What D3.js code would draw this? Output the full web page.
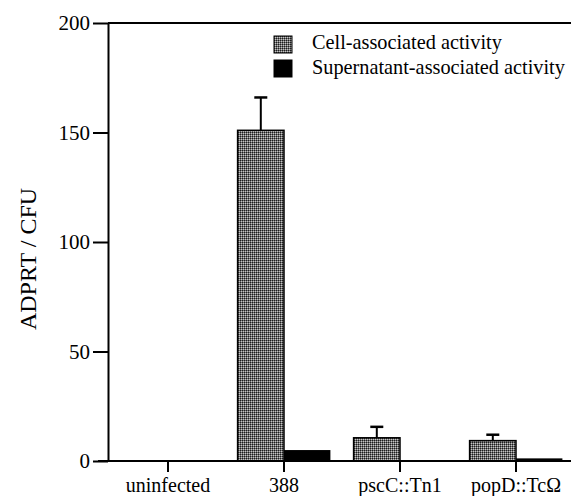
<!DOCTYPE html>
<html><head><meta charset="utf-8">
<script src="https://cdn.jsdelivr.net/npm/d3@7"></script>
<style>body{margin:0;background:#fff}svg{display:block}text{font-family:"Liberation Serif","Times New Roman",serif;fill:#000}</style>
</head><body><svg id="c" width="571" height="496"></svg>
<script>
const categories = ["uninfected", "388", "pscC::Tn1", "popD::TcΩ"];
const cellValues = [0, 151, 10.6, 9.3];
const cellErrors = [0, 15, 5, 2.7];
const supernatantValues = [0, 5, 0, 1.2];
const yTicks = [0, 50, 100, 150, 200];
const seriesNames = ["Cell-associated activity", "Supernatant-associated activity"];

(function(){
const FF = '"Liberation Serif","Times New Roman",serif';
const svg = d3.select("#c");
const pLeft = 108, pTop = 23, pBottom = 461;

const defs = svg.append("defs");
const pat = defs.append("pattern").attr("id","stip").attr("patternUnits","userSpaceOnUse")
  .attr("width",2).attr("height",2);
pat.append("rect").attr("width",2).attr("height",2).attr("fill","#6e6e6e");
pat.append("rect").attr("width",1).attr("height",1).attr("fill","#1e1e1e");
pat.append("rect").attr("x",1).attr("y",1).attr("width",1).attr("height",1).attr("fill","#c4c4c4");

const x = d3.scaleBand().domain(categories).range([110, 574]).paddingInner(0).paddingOuter(0);
const y = d3.scaleLinear().domain([0, 200]).range([pBottom, pTop]);
const bw = x.bandwidth() * 0.4;

svg.append("line").attr("x1",pLeft).attr("x2",571).attr("y1",pTop).attr("y2",pTop)
  .attr("stroke","#000").attr("stroke-width",2);

const g = svg.append("g");
categories.forEach((c,i) => {
  const cx = x(c) + x.bandwidth()/2;
  if (cellValues[i] > 0) {
    g.append("rect").attr("x", cx - bw).attr("y", y(cellValues[i]))
      .attr("width", bw).attr("height", y(0) - y(cellValues[i]))
      .attr("fill","url(#stip)").attr("stroke","#000").attr("stroke-width",1.5);
  }
  if (supernatantValues[i] > 0) {
    g.append("rect").attr("x", cx).attr("y", y(supernatantValues[i]))
      .attr("width", bw).attr("height", y(0) - y(supernatantValues[i]))
      .attr("fill","#000");
  }
  if (cellErrors[i] > 0) {
    const ex = cx - bw/2, t0 = y(cellValues[i] + cellErrors[i]);
    g.append("line").attr("x1",ex).attr("x2",ex).attr("y1",y(cellValues[i])).attr("y2",t0)
      .attr("stroke","#000").attr("stroke-width",2);
    g.append("line").attr("x1",ex-6.5).attr("x2",ex+6.5).attr("y1",t0).attr("y2",t0)
      .attr("stroke","#000").attr("stroke-width",2.5);
  }
});

const ya = svg.append("g").attr("transform",`translate(${pLeft},0)`)
  .call(d3.axisLeft(y).tickValues(yTicks).tickSize(15).tickPadding(3).tickSizeOuter(0));
ya.attr("font-family", FF);
ya.select(".domain").attr("stroke-width",2);
ya.selectAll(".tick line").attr("stroke-width",2);
ya.selectAll(".tick text").attr("font-family",FF).attr("font-size",21);

const xa = svg.append("g").attr("transform",`translate(0,${pBottom})`)
  .call(d3.axisBottom(x).tickSize(11).tickPadding(6).tickSizeOuter(0));
xa.attr("font-family", FF);
xa.select(".domain").attr("d",`M${pLeft-10},0H571`).attr("stroke-width",2);
xa.selectAll(".tick line").attr("stroke-width",2);
xa.selectAll(".tick text").attr("font-family",FF).attr("font-size",20);

svg.append("text").attr("transform","translate(36,259) rotate(-90)")
  .attr("text-anchor","middle").attr("font-family",FF).attr("font-size",24).text("ADPRT / CFU");

const lg = svg.append("g");
seriesNames.forEach((n,i) => {
  lg.append("rect").attr("x",274).attr("y",36 + i*24).attr("width",18).attr("height",17)
    .attr("fill", i===0 ? "url(#stip)" : "#000").attr("stroke","#000").attr("stroke-width",1);
  lg.append("text").attr("x",312).attr("y",49 + i*25).attr("font-family",FF).attr("font-size",20.3).text(n);
});
})();
</script></body></html>
